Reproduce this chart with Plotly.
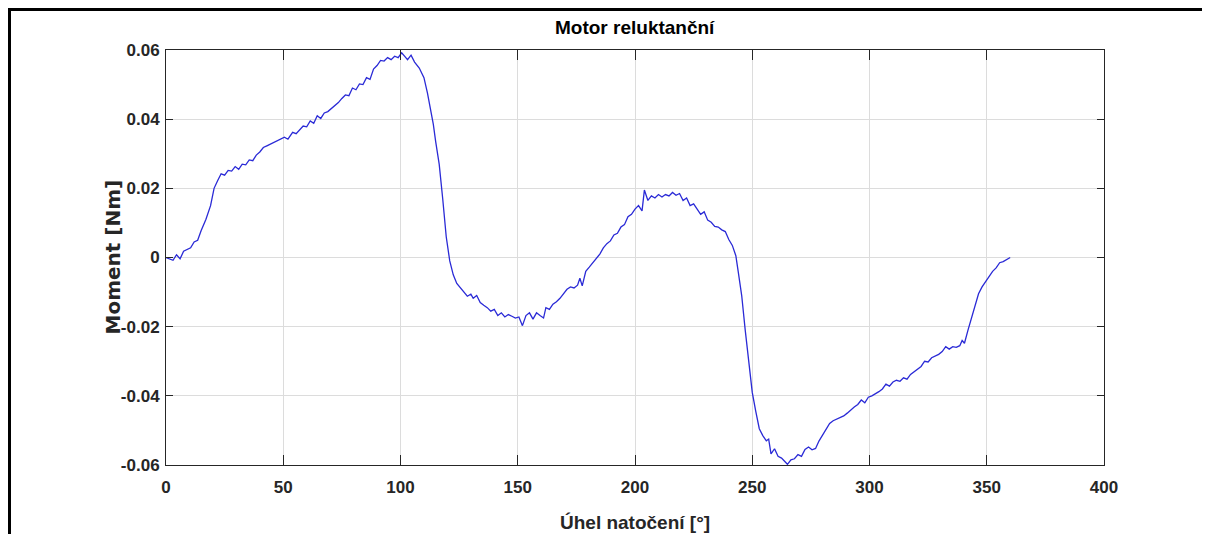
import plotly.graph_objects as go

angle_deg = [0, 1.5, 3, 4.5, 6, 7.5, 9, 10.5, 12, 13.5, 15, 17, 19, 20.5, 22, 23.5, 25, 26.5, 28, 29.5,
             31, 32.5, 34, 35.5, 37, 38.5, 40, 41.5, 43, 45, 47, 49, 50.5, 52, 54, 55.5, 57, 58.5, 60, 61.5,
             63, 64.5, 66, 67.5, 69, 70.5, 72, 73.5, 75, 76.5, 78, 79.5, 81, 82.5, 84, 85.5, 87, 88.5, 90, 91.5,
             93, 94.5, 96, 97.5, 99, 100.5, 102, 103, 104.5, 106, 108, 110, 111.5, 113, 114, 115, 116.5, 118, 119.5, 121,
             122.5, 124, 125.5, 127, 128.5, 130, 131, 132.5, 134, 135.5, 137, 138.5, 140, 141.5, 143, 144.5, 146, 147.5, 149, 150.5,
             152, 153.5, 155, 156.5, 158, 159.5, 161, 162, 163.5, 165, 166.5, 168, 169.5, 171, 172.5, 174, 175.5, 176.5, 177.5, 179,
             180.5, 182, 183.5, 185, 186.5, 188, 189.5, 191, 192.5, 194, 195.5, 197, 198.5, 200, 201.5, 203, 204, 205.5, 207, 208.5,
             210, 211.5, 213, 214.5, 216, 217.5, 219, 220.5, 222, 223.5, 225, 226.5, 228, 229.5, 231, 232.5, 234, 235.5, 237, 238.5,
             240, 241.5, 243, 244, 245.5, 247, 248.5, 250, 251.5, 253, 254.5, 256, 257, 258, 259.5, 261, 262.5, 264, 265, 266.5,
             268, 269.5, 271, 272.5, 274, 275.5, 277, 278.5, 280, 281.5, 283, 284.5, 286, 287.5, 289, 290.5, 292, 293.5, 295, 296.5,
             298, 299.5, 301, 302.5, 304, 305.5, 307, 308.5, 310, 311.5, 313, 314.5, 316, 317.5, 319, 320.5, 322, 323.5, 325, 326.5,
             328, 329.5, 331, 332.5, 334, 335.5, 337, 338.5, 339.5, 340.5, 342, 343.5, 345, 346.5, 348, 349.5, 351, 352.5, 354, 355.5,
             357, 358.5, 360]

moment_nm = [0.0000, -0.0003, -0.0008, 0.0008, -0.0004, 0.0018, 0.0022, 0.0028, 0.0045, 0.0050, 0.0078, 0.0110, 0.0150, 0.0200, 0.0222, 0.0242, 0.0238, 0.0252, 0.0250, 0.0263,
             0.0255, 0.0270, 0.0268, 0.0282, 0.0280, 0.0296, 0.0305, 0.0318, 0.0323, 0.0330, 0.0337, 0.0343, 0.0348, 0.0342, 0.0362, 0.0358, 0.0368, 0.0380, 0.0378, 0.0395,
             0.0388, 0.0410, 0.0402, 0.0418, 0.0422, 0.0430, 0.0440, 0.0448, 0.0460, 0.0470, 0.0468, 0.0490, 0.0485, 0.0502, 0.0500, 0.0520, 0.0515, 0.0545, 0.0555, 0.0570,
             0.0568, 0.0578, 0.0572, 0.0582, 0.0578, 0.0592, 0.0580, 0.0572, 0.0585, 0.0565, 0.0548, 0.0520, 0.0475, 0.0420, 0.0385, 0.0335, 0.0270, 0.0170, 0.0060, -0.0010,
             -0.0050, -0.0075, -0.0088, -0.0100, -0.0112, -0.0106, -0.0118, -0.0110, -0.0130, -0.0138, -0.0145, -0.0155, -0.0150, -0.0168, -0.0160, -0.0172, -0.0165, -0.0170, -0.0175, -0.0172,
             -0.0197, -0.0168, -0.0160, -0.0178, -0.0160, -0.0168, -0.0175, -0.0145, -0.0150, -0.0135, -0.0128, -0.0118, -0.0105, -0.0092, -0.0085, -0.0088, -0.0080, -0.0060, -0.0082, -0.0040,
             -0.0028, -0.0015, 0.0000, 0.0010, 0.0028, 0.0040, 0.0048, 0.0065, 0.0070, 0.0088, 0.0095, 0.0118, 0.0125, 0.0140, 0.0150, 0.0135, 0.0195, 0.0165, 0.0178, 0.0172,
             0.0182, 0.0175, 0.0182, 0.0178, 0.0188, 0.0180, 0.0185, 0.0165, 0.0172, 0.0150, 0.0155, 0.0140, 0.0125, 0.0132, 0.0108, 0.0102, 0.0090, 0.0088, 0.0080, 0.0075,
             0.0052, 0.0035, 0.0005, -0.0040, -0.0110, -0.0210, -0.0300, -0.0390, -0.0445, -0.0495, -0.0515, -0.0530, -0.0525, -0.0568, -0.0553, -0.0575, -0.0580, -0.0592, -0.0598, -0.0585,
             -0.0582, -0.0570, -0.0575, -0.0555, -0.0548, -0.0556, -0.0552, -0.0530, -0.0512, -0.0495, -0.0480, -0.0472, -0.0468, -0.0462, -0.0458, -0.0450, -0.0440, -0.0432, -0.0425, -0.0412,
             -0.0420, -0.0404, -0.0400, -0.0395, -0.0388, -0.0380, -0.0366, -0.0372, -0.0360, -0.0355, -0.0358, -0.0348, -0.0352, -0.0338, -0.0330, -0.0322, -0.0315, -0.0300, -0.0302, -0.0290,
             -0.0285, -0.0280, -0.0272, -0.0258, -0.0265, -0.0258, -0.0260, -0.0255, -0.0240, -0.0248, -0.0210, -0.0175, -0.0140, -0.0105, -0.0085, -0.0070, -0.0058, -0.0040, -0.0030, -0.0015,
             -0.0012, -0.0005, 0.0000]

x_ticks = [0, 50, 100, 150, 200, 250, 300, 350, 400]
x_tick_labels = ["0", "50", "100", "150", "200", "250", "300", "350", "400"]
y_ticks = [-0.06, -0.04, -0.02, 0, 0.02, 0.04, 0.06]
y_tick_labels = ["-0.06", "-0.04", "-0.02", "0", "0.02", "0.04", "0.06"]

title_text = "Motor reluktanční"
x_label = "Úhel natočení [°]"
y_label = "Moment [Nm]"

FONT = "Liberation Sans, Arial, sans-serif"

# The page body has an 8px margin, so the figure starts at (8, 8) in the window.
OFF = 8
W, H = 1210 - OFF, 534 - OFF
# plot area in window pixels: x 166..1104, y 50..465
L, T = 166 - OFF, 50 - OFF
pw, ph = 938, 415
R, B = W - L - pw, H - T - ph

def px_to_paper_x(px):
    return (px - OFF - L) / pw

def px_to_paper_y(py):
    return (T + ph - (py - OFF)) / ph

fig = go.Figure()
fig.add_trace(go.Scatter(x=angle_deg, y=moment_nm, mode="lines",
                         line=dict(color="#2a2ad6", width=1.3), showlegend=False))

axis_common = dict(showline=True, linecolor="#262626", linewidth=1, mirror="allticks",
                   ticks="inside", tickcolor="#262626", tickwidth=1,
                   showgrid=True, gridcolor="#dcdcdc", gridwidth=1, zeroline=False,
                   tickfont=dict(family=FONT, size=17, color="#262626", weight="bold"))

fig.update_xaxes(range=[0, 400], tickvals=x_ticks, ticktext=x_tick_labels, ticklen=10,
                 ticklabelstandoff=7, **axis_common)
fig.update_yaxes(range=[-0.06, 0.06], tickvals=y_ticks, ticktext=y_tick_labels, ticklen=7,
                 ticklabelstandoff=2, **axis_common)

fig.update_layout(
    width=W, height=H,
    margin=dict(l=L, r=R, t=T, b=B),
    paper_bgcolor="white", plot_bgcolor="white",
    annotations=[
        dict(text=f"<b>{title_text}</b>", xref="paper", yref="paper",
             x=0.5, y=px_to_paper_y(28), xanchor="center", yanchor="middle",
             showarrow=False, font=dict(family=FONT, size=19, color="black")),
        dict(text=f"<b>{x_label}</b>", xref="paper", yref="paper",
             x=0.5, y=px_to_paper_y(522), xanchor="center", yanchor="middle",
             showarrow=False, font=dict(family=FONT, size=19, color="#262626")),
        dict(text=f"<b>{y_label}</b>", xref="paper", yref="paper",
             x=px_to_paper_x(112), y=0.5, xanchor="center", yanchor="middle", textangle=-90,
             showarrow=False, font=dict(family="DejaVu Sans, sans-serif", size=20, color="#262626")),
    ],
    shapes=[
        dict(type="line", xref="paper", yref="paper",
             x0=px_to_paper_x(6), x1=px_to_paper_x(1215), y0=px_to_paper_y(9), y1=px_to_paper_y(9),
             line=dict(color="black", width=4)),
        dict(type="line", xref="paper", yref="paper",
             x0=px_to_paper_x(9), x1=px_to_paper_x(9), y0=px_to_paper_y(7), y1=px_to_paper_y(540),
             line=dict(color="black", width=4)),
    ],
)

fig.write_html("out.html")
